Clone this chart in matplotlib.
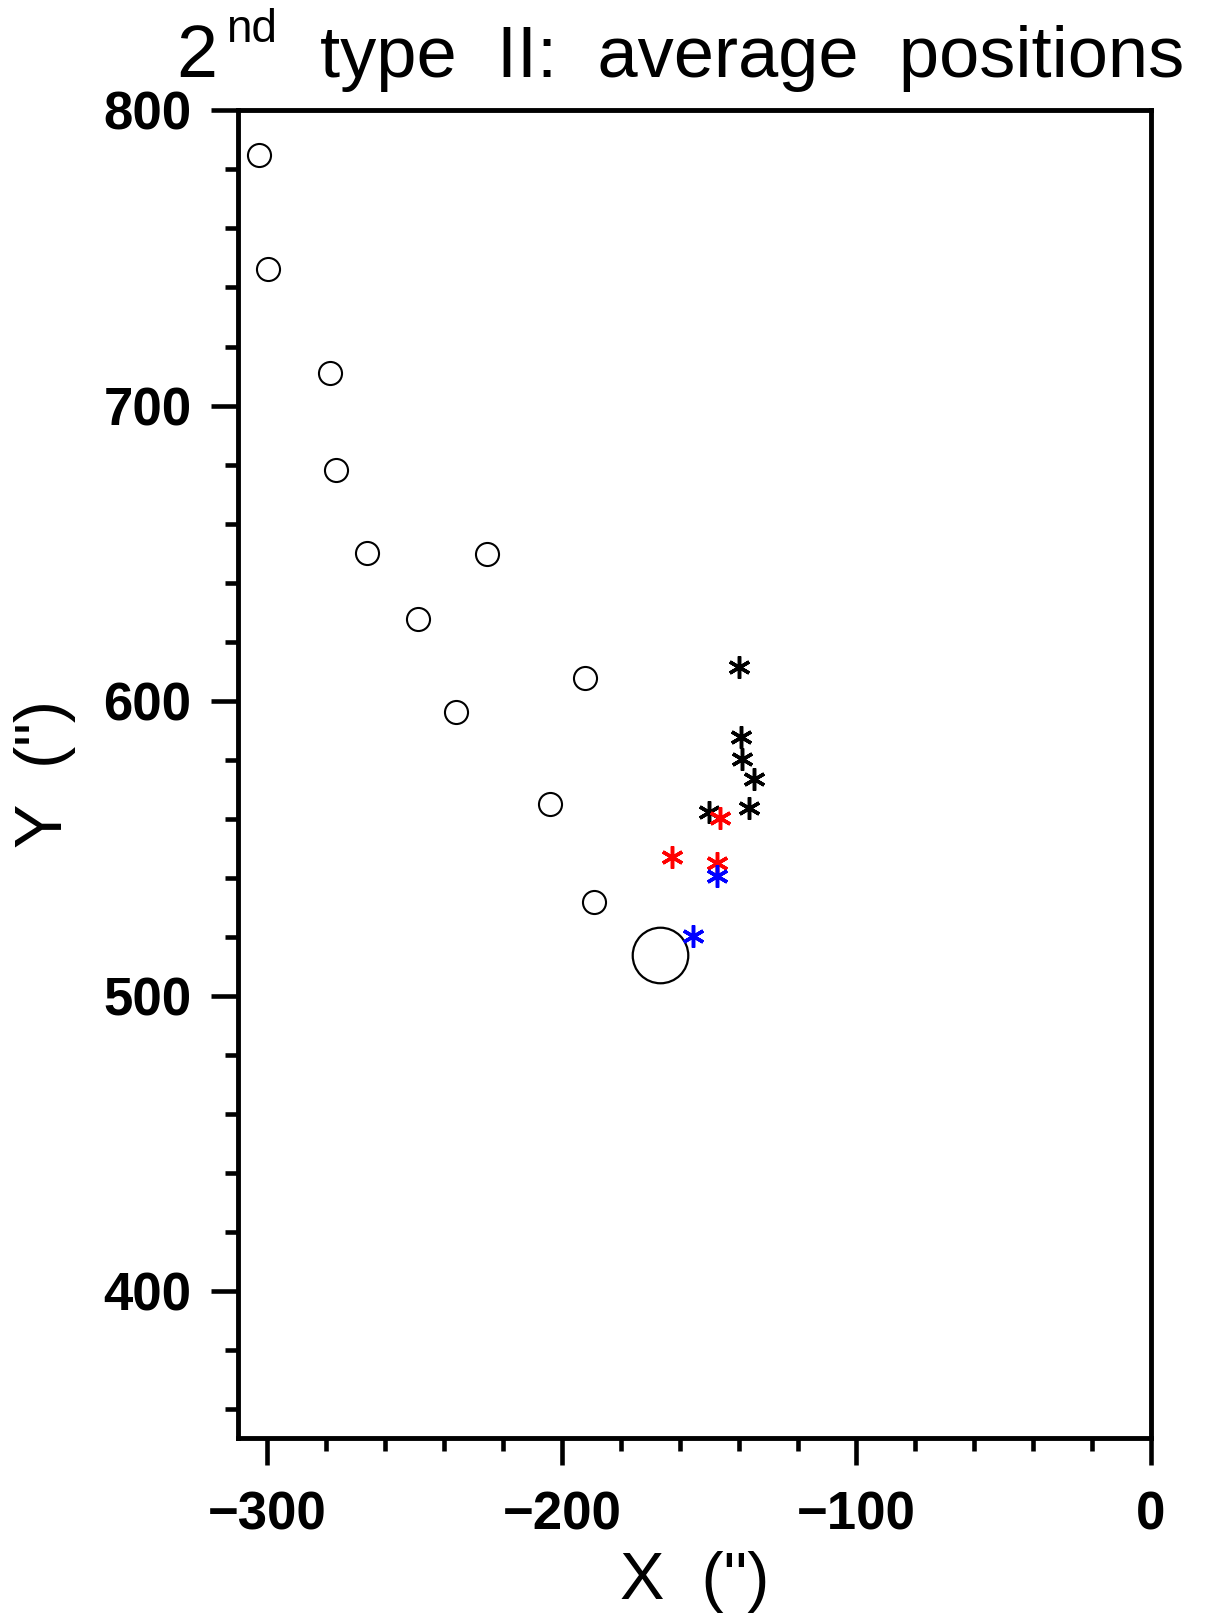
import matplotlib
matplotlib.use("Agg")
import matplotlib.pyplot as plt
from matplotlib.ticker import MultipleLocator

plt.rcParams['font.family'] = ['Liberation Sans', 'DejaVu Sans']

# average positions of the type II burst sources (arcsec)
circle_x = [-303.0, -299.7, -278.6, -276.8, -266.3, -225.6, -248.8, -192.3, -236.1, -203.9, -189.1]
circle_y = [785.0, 746.3, 711.1, 678.2, 649.9, 649.5, 627.5, 607.5, 596.0, 564.8, 531.6]

big_x = [-166.8]
big_y = [513.9]

black_x = [-139.9, -139.3, -138.9, -134.9, -136.6, -150.2]
black_y = [611.3, 587.6, 580.1, 573.5, 563.5, 562.3]

red_x = [-146.2, -162.5, -147.3]
red_y = [560.1, 547.1, 544.9]

blue_x = [-147.3, -155.4]
blue_y = [540.4, 520.3]

fig = plt.figure(figsize=(12.24, 16.2), dpi=100)
ax = fig.add_axes([0.1944, 0.1123, 0.7460, 0.8195])

ax.plot(circle_x, circle_y, 'o', ms=16.6, mfc='none', mec='black', mew=1.5)
ax.plot(big_x, big_y, 'o', ms=40, mfc='none', mec='black', mew=1.6)

star = (6, 2, 0)
ax.plot(black_x, black_y, ls='none', marker=star, ms=16, mec='black', mew=2.5)
ax.plot(red_x, red_y, ls='none', marker=star, ms=16, mec='red', mew=2.5)
ax.plot(blue_x, blue_y, ls='none', marker=star, ms=16, mec='blue', mew=2.5)

ax.set_xlim(-310, 0)
ax.set_ylim(350, 800)

ax.xaxis.set_major_locator(MultipleLocator(100))
ax.xaxis.set_minor_locator(MultipleLocator(20))
ax.yaxis.set_major_locator(MultipleLocator(100))
ax.yaxis.set_minor_locator(MultipleLocator(20))

ax.tick_params(which='both', direction='out', top=False, right=False, width=3.3)
ax.tick_params(which='major', length=19.5)
ax.tick_params(which='minor', length=9.5)
ax.tick_params(axis='y', which='major', pad=14)
ax.tick_params(axis='x', which='major', pad=18)
for lab in ax.get_xticklabels() + ax.get_yticklabels():
    lab.set_fontsize(38)
    lab.set_fontweight('bold')

for sp in ax.spines.values():
    sp.set_linewidth(3.5)

ax.set_xlabel('X  (")', fontsize=48, labelpad=8)
ax.set_ylabel('Y  (")', fontsize=48, labelpad=20)

# title with superscript
fig.text(176 / 1224, 1 - 77 / 1620, '2', fontsize=53, ha='left', va='baseline')
fig.text(226 / 1224, 1 - 42 / 1620, 'nd', fontsize=33, ha='left', va='baseline')
fig.text(320 / 1224, 1 - 77 / 1620, 'type  II:  average  positions', fontsize=52,
         ha='left', va='baseline')

fig.savefig('out.png', dpi=100)
